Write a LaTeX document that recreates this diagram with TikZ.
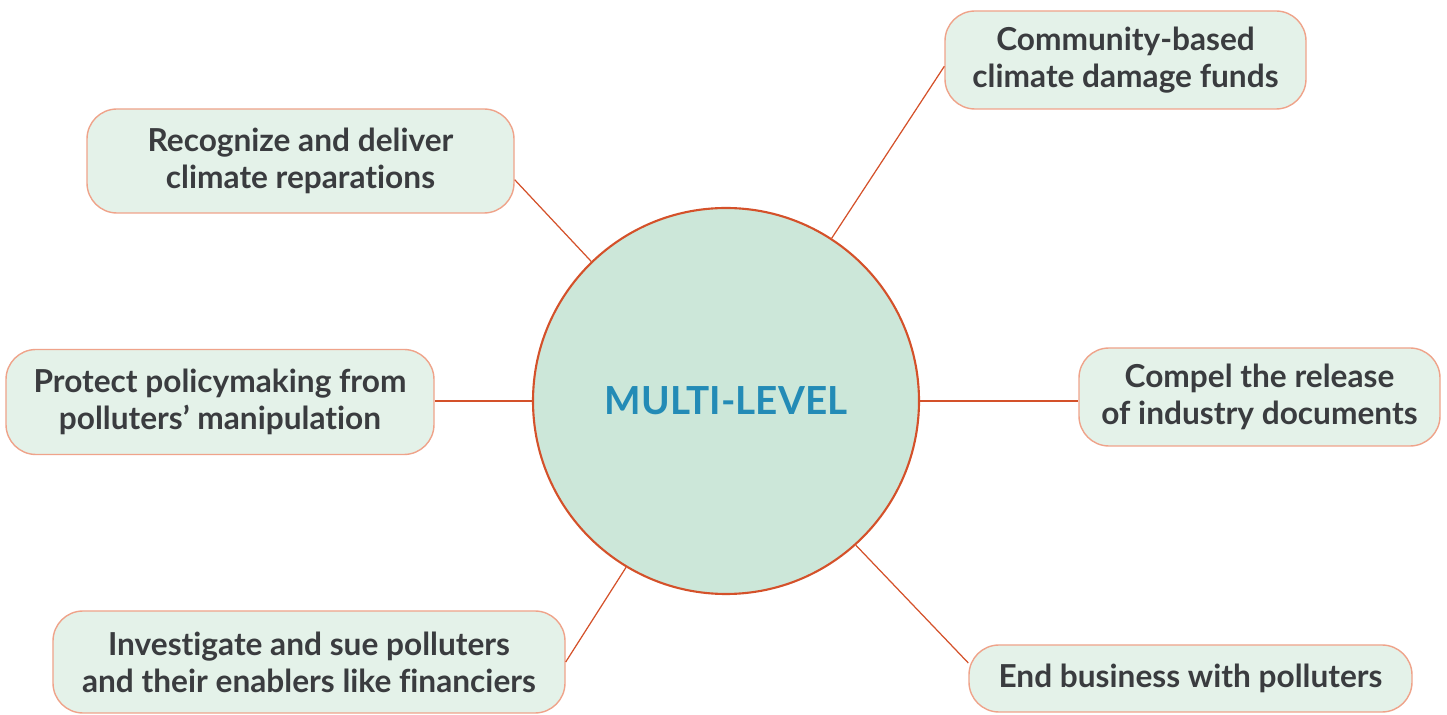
\documentclass[tikz,border=0pt]{standalone}
\usepackage{fontspec}
\setmainfont{Lato}[Ligatures={NoCommon,NoDiscretionary}]
\usepackage{xcolor}
\usepackage{tikz}
\usetikzlibrary{positioning}
\definecolor{hubfill}{HTML}{CCE7D9}
\definecolor{hubline}{HTML}{D4512A}
\definecolor{boxfill}{HTML}{E4F2E9}
\definecolor{boxline}{HTML}{EFA38A}
\definecolor{textgray}{HTML}{3A3C3F}
\definecolor{hubblue}{HTML}{238BB6}

\begin{document}
\begin{tikzpicture}[
    hub/.style={circle, draw=hubline, line width=1.2pt, fill=hubfill, minimum size=7.72cm, inner sep=0pt, font=\fontsize{22pt}{26pt}\selectfont\bfseries, text=hubblue},
    action/.style={draw=boxline, line width=0.8pt, fill=boxfill, rounded corners=0.6cm, align=center, inner sep=0pt, font=\fontsize{18pt}{21pt}\selectfont\bfseries, text=textgray},
    link/.style={draw=hubline, line width=0.7pt},
]
\useasboundingbox (0,0) rectangle (28.94,-14.3);

% === Centre ===
\node[hub] (multi) at (14.52, -8.02) {MULTI-LEVEL};

% === Actions ===
\node[action, minimum width=7.22cm, minimum height=1.96cm] (funds) at (22.51, -1.20)
    {Community-based\\climate damage funds};
\node[action, minimum width=8.54cm, minimum height=2.08cm] (repair) at (6.01, -3.22)
    {Recognize and deliver\\climate reparations};
\node[action, minimum width=8.56cm, minimum height=2.10cm] (protect) at (4.40, -8.04)
    {Protect policymaking from\\polluters’ manipulation};
\node[action, minimum width=7.22cm, minimum height=1.96cm] (release) at (25.19, -7.94)
    {Compel the release\\of industry documents};
\node[action, minimum width=10.24cm, minimum height=2.04cm] (sue) at (6.18, -13.24)
    {Investigate and sue polluters\\and their enablers like financiers};
\node[action, minimum width=8.86cm, minimum height=1.34cm] (endbiz) at (23.81, -13.57)
    {End business with polluters};

% === Links ===
\draw[link] (multi.57) -- (funds.182);
\draw[link] (multi.134) -- (repair.-5.6);
\draw[link] (multi.west) -- (multi.west -| protect.east);
\draw[link] (multi.east) -- (multi.east -| release.west);
\draw[link] (multi.239) -- (sue.east);
\draw[link] (multi.-48) -- (endbiz.176.5);

\end{tikzpicture}
\end{document}
